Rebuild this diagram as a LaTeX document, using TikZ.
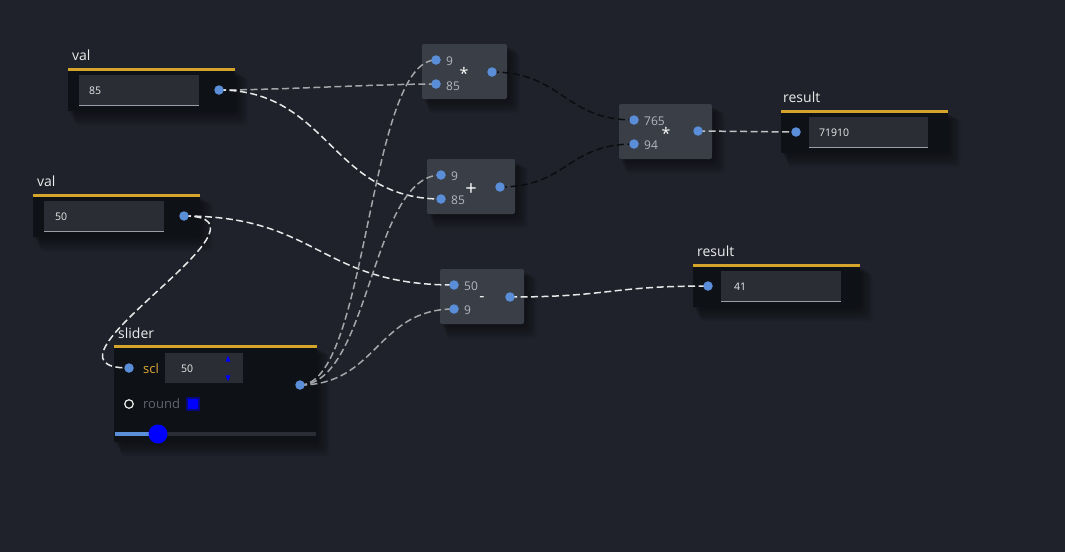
\documentclass[tikz,border=0pt]{standalone}
\usepackage{fontspec}
\setmainfont{Open Sans}
\usetikzlibrary{shapes.geometric}
\definecolor{bgc}{HTML}{1F222A}
\definecolor{bodyc}{HTML}{0E1115}
\definecolor{fieldc}{HTML}{2A2D34}
\definecolor{linec}{HTML}{9A9EA6}
\definecolor{yel}{HTML}{D4A52A}
\definecolor{opc}{HTML}{3A3E47}
\definecolor{portc}{HTML}{5A8ED8}
\definecolor{txt}{HTML}{ECECEC}
\definecolor{optxt}{HTML}{B4B8C0}
\definecolor{wdark}{HTML}{0B0D11}
\definecolor{wgray}{HTML}{A4A6AA}
\definecolor{wwhite}{HTML}{E8E8E8}
\definecolor{sclc}{HTML}{E0A838}
\definecolor{knob}{HTML}{0000FF}
\pgfdeclarelayer{boxes}
\pgfdeclarelayer{wires}
\pgfsetlayers{boxes,wires,main}
\newcommand\shadowbox[4]{%
  \foreach \k in {1,...,7}{%
    \fill[black,opacity=0.07,rounded corners=4pt] (#1+\k,#2+\k+1) rectangle (#3+1.8*\k,#4+2*\k);}}
\begin{document}
\begin{tikzpicture}[x=1pt,y=-1pt,
  port/.style={circle,fill=portc,inner sep=0pt,minimum size=9.5pt},
  hdr/.style={anchor=west,text=txt,font=\fontsize{14}{16}\selectfont,inner sep=0pt},
  val/.style={anchor=west,text=txt,font=\fontsize{10.5}{12}\selectfont,inner sep=0pt},
  optx/.style={anchor=west,text=optxt,font=\fontsize{12}{14}\selectfont,inner sep=0pt},
  opsym/.style={text=white,font=\fontsize{16}{18}\selectfont,inner sep=0pt},
  wire/.style={line width=1.5pt,dash pattern=on 7pt off 3.5pt},
  ww/.style={wire,draw=wwhite},
  wg/.style={wire,draw=wgray},
  wd/.style={wire,draw=wdark}]
\begin{pgfonlayer}{boxes}
\fill[bgc] (0,0) rectangle (1065,552);
% val 1
\shadowbox{68}{69}{235}{111}
\fill[bodyc] (68,69) rectangle (235,111);
\fill[yel] (68,68) rectangle (235,70.5);
\fill[fieldc] (79,75) rectangle (199,105);
\draw[linec,line width=0.8pt] (79,105) -- (199,105);
% val 2
\shadowbox{33}{195}{200}{237}
\fill[bodyc] (33,195) rectangle (200,237);
\fill[yel] (33,194) rectangle (200,196.5);
\fill[fieldc] (44,201) rectangle (164,231);
\draw[linec,line width=0.8pt] (44,231) -- (164,231);
% slider
\shadowbox{114}{346}{317}{442}
\fill[bodyc] (114,346) rectangle (317,442);
\fill[yel] (114,345) rectangle (317,347.5);
\fill[fieldc] (165,353) rectangle (243,383);
% result 1
\shadowbox{781}{111}{948}{153}
\fill[bodyc] (781,111) rectangle (948,153);
\fill[yel] (781,110) rectangle (948,112.5);
\fill[fieldc] (809,117) rectangle (928,147);
\draw[linec,line width=0.8pt] (809,147) -- (928,147);
% result 2
\shadowbox{693}{265}{860}{307}
\fill[bodyc] (693,265) rectangle (860,307);
\fill[yel] (693,264) rectangle (860,266.5);
\fill[fieldc] (721,271) rectangle (841,301);
\draw[linec,line width=0.8pt] (721,301) -- (841,301);
% op boxes
\shadowbox{422}{44}{507}{99}
\fill[opc,rounded corners=2pt] (422,44) rectangle (507,99);
\shadowbox{427}{159}{515}{214}
\fill[opc,rounded corners=2pt] (427,159) rectangle (515,214);
\shadowbox{619}{104}{712}{159}
\fill[opc,rounded corners=2pt] (619,104) rectangle (712,159);
\shadowbox{440}{269}{524}{324}
\fill[opc,rounded corners=2pt] (440,269) rectangle (524,324);
\end{pgfonlayer}

% headers
\node[hdr] (h1) at (72,55) {val};
\node[hdr] (h2) at (37,181) {val};
\node[hdr] (h3) at (118,333) {slider};
\node[hdr] (h4) at (783,97) {result};
\node[hdr] (h5) at (697,251) {result};
% values
\node[val] (v1) at (89,91) {85};
\node[val] (v2) at (55,217) {50};
\node[val] (v3) at (181,369) {50};
\node[val] (v4) at (819,133) {71910};
\node[val] (v5) at (734,287) {41};

% ports
\node[port] (o1) at (219,90) {};
\node[port] (o2) at (184,216) {};
\node[port] (sin) at (129,368) {};
\node[port] (sout) at (300,385) {};
\node[port] (m1a) at (436,60) {};
\node[port] (m1b) at (436,84) {};
\node[port] (m1o) at (492,72) {};
\node[port] (a1a) at (441,175) {};
\node[port] (a1b) at (441,199) {};
\node[port] (a1o) at (500,187) {};
\node[port] (m2a) at (634,120) {};
\node[port] (m2b) at (634,144) {};
\node[port] (m2o) at (698,131) {};
\node[port] (s1a) at (454,285) {};
\node[port] (s1b) at (454,309) {};
\node[port] (s1o) at (510,297) {};
\node[port] (r1) at (796,132) {};
\node[port] (r2) at (708,286) {};

% op labels
\node[optx] (l1) at (446,61) {9};
\node[optx] (l2) at (446,86) {85};
\node[opsym] (l3) at (464,73) {*};
\node[optx] (l4) at (451,176) {9};
\node[optx] (l5) at (451,200) {85};
\node[opsym,font=\fontsize{20}{22}\selectfont] (l6) at (471,190) {+};
\node[optx] (l7) at (644,121) {765};
\node[optx] (l8) at (644,145) {94};
\node[opsym] (l9) at (666,133) {*};
\node[optx] (l10) at (464,286) {50};
\node[optx] (l11) at (464,310) {9};
\node[opsym] (l12) at (482,299) {-};

% slider details
\node[anchor=west,text=sclc,font=\fontsize{13}{15}\selectfont,inner sep=0pt] (scl) at (143,369) {scl};
\node[isosceles triangle,shape border rotate=90,fill=knob,inner sep=0pt,minimum width=5pt,minimum height=4pt] (up) at (228,360) {};
\node[isosceles triangle,shape border rotate=-90,fill=knob,inner sep=0pt,minimum width=5pt,minimum height=4pt] (dn) at (228,377) {};
\node[circle,draw=txt,line width=1.2pt,inner sep=0pt,minimum size=8.5pt] (rc) at (129,404) {};
\node[anchor=west,text=optxt!50!bodyc,font=\fontsize{13}{15}\selectfont,inner sep=0pt] (rnd) at (143,404) {round};
\node[draw=knob!45!bodyc,fill=knob,line width=1.5pt,inner sep=0pt,minimum size=12pt] (chk) at (193,404) {};
\coordinate (tl) at (115,434);
\coordinate (tr) at (316,434);
\node[circle,fill=knob,inner sep=0pt,minimum size=19pt] (kn) at (158,434) {};
\begin{pgfonlayer}{wires}
\draw[line width=3.5pt,draw=fieldc] (tl) -- (tr);
\draw[line width=3.5pt,draw=portc] (tl) -- (kn.center);
% connectors
\draw[wg] (o1.center) .. controls +(60,0) and +(-60,0) .. (m1b.center);
\draw[ww] (o1.center) .. controls +(110,0) and +(-110,0) .. (a1b.center);
\draw[ww] (o2.center) .. controls +(135,0) and +(-135,0) .. (s1a.center);
\draw[ww] (o2.center) .. controls +(110,0) and +(-110,0) .. (sin.center);
\draw[wg] (sout.center) .. controls +(68,0) and +(-68,0) .. (m1a.center);
\draw[wg] (sout.center) .. controls +(70,0) and +(-70,0) .. (a1a.center);
\draw[wg] (sout.center) .. controls +(77,0) and +(-77,0) .. (s1b.center);
\draw[wd] (m1o.center) .. controls +(70,0) and +(-70,0) .. (m2a.center);
\draw[wd] (a1o.center) .. controls +(67,0) and +(-67,0) .. (m2b.center);
\draw[wire,draw=wgray!70!white] (m2o.center) .. controls +(49,0) and +(-49,0) .. (r1.center);
\draw[ww] (s1o.center) .. controls +(99,0) and +(-99,0) .. (r2.center);
\end{pgfonlayer}
\end{tikzpicture}
\end{document}
